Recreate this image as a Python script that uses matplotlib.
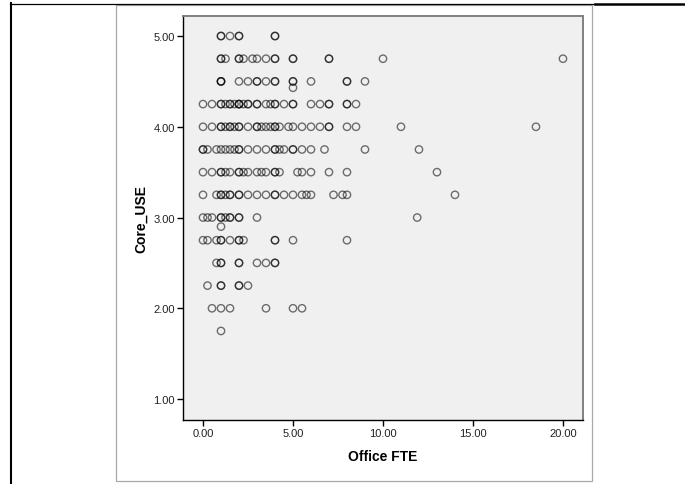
#!/usr/bin/env python3

import numpy as np
import matplotlib
matplotlib.use("Agg")
import matplotlib.pyplot as plt
from matplotlib.lines import Line2D
from matplotlib.patches import Rectangle
from matplotlib.ticker import FormatStrFormatter

plt.rcParams['font.family'] = ['Liberation Sans', 'DejaVu Sans']

# Office FTE values for each Core_USE level (repeats = overlapping cases)
fte_500 = [1.0, 1.0, 1.5, 2.0, 2.0, 4.0, 4.0]
fte_475 = [1.0, 1.0, 1.25, 2.0, 2.0, 2.25, 2.75, 3.0, 3.5, 4.0, 4.0, 5.0, 5.0, 7.0, 7.0, 10.0, 20.0]
fte_450 = [1.0, 1.0, 1.0, 2.0, 2.5, 3.0, 3.0, 3.5, 4.0, 4.0, 5.0, 5.0, 6.0, 8.0, 8.0, 9.0]
fte_443 = [5.0]
fte_425 = [0.0, 0.5, 1.0, 1.0, 1.25, 1.5, 1.5, 1.75, 2.0, 2.0, 2.0, 2.25, 2.5, 2.5, 3.0, 3.0,
           3.5, 3.75, 4.0, 4.0, 4.5, 5.0, 5.0, 6.0, 6.5, 7.0, 7.0, 8.0, 8.0, 8.5]
fte_400 = [0.0, 0.5, 1.0, 1.0, 1.25, 1.5, 1.5, 1.75, 2.0, 2.0, 2.5, 3.0, 3.0, 3.25, 3.5, 3.75,
           4.0, 4.0, 4.25, 4.75, 5.0, 5.5, 6.0, 6.5, 7.0, 7.0, 8.0, 8.5, 11.0, 18.5]
fte_375 = [0.0, 0.0, 0.25, 0.75, 1.0, 1.25, 1.5, 1.75, 2.0, 2.0, 2.5, 3.0, 3.5, 4.0, 4.0, 4.25,
           4.5, 5.0, 5.0, 5.5, 6.0, 6.75, 9.0, 12.0]
fte_350 = [0.0, 0.5, 1.0, 1.0, 1.25, 1.5, 2.0, 2.0, 2.25, 2.5, 3.0, 3.25, 3.5, 4.0, 4.0, 4.25,
           5.25, 5.5, 6.0, 7.0, 8.0, 13.0]
fte_325 = [0.0, 0.75, 1.0, 1.0, 1.25, 1.5, 1.5, 2.0, 2.0, 2.5, 3.0, 3.5, 4.0, 4.0, 4.5, 5.0,
           5.5, 5.75, 6.0, 7.25, 7.75, 8.0, 14.0]
fte_300 = [0.0, 0.25, 0.5, 1.0, 1.0, 1.25, 1.5, 1.5, 2.0, 2.0, 3.0, 11.9]
fte_290 = [1.0]
fte_275 = [0.0, 0.25, 0.75, 1.0, 1.0, 1.5, 2.0, 2.0, 2.25, 4.0, 4.0, 5.0, 8.0]
fte_250 = [0.75, 1.0, 1.0, 2.0, 2.0, 3.0, 3.5, 4.0, 4.0]
fte_225 = [0.25, 1.0, 1.0, 2.0, 2.0, 2.5]
fte_200 = [0.5, 1.0, 1.5, 3.5, 5.0, 5.5]
fte_175 = [1.0]

core_levels = [5.0, 4.75, 4.5, 4.43, 4.25, 4.0, 3.75, 3.5, 3.25, 3.0, 2.9, 2.75, 2.5, 2.25, 2.0, 1.75]
fte_rows = [fte_500, fte_475, fte_450, fte_443, fte_425, fte_400, fte_375, fte_350,
            fte_325, fte_300, fte_290, fte_275, fte_250, fte_225, fte_200, fte_175]

x_ticks = [0, 5, 10, 15, 20]
y_ticks = [1, 2, 3, 4, 5]

office_fte = np.concatenate([np.array(r, dtype=float) for r in fte_rows])
core_use = np.concatenate([np.full(len(r), lvl) for r, lvl in zip(fte_rows, core_levels)])

W, H = 685, 485

def fx(x) :
	return x / W

def fy(y) :
	return 1 - y / H

fig = plt.figure(figsize=(W / 100, H / 100), dpi=100)

# page decoration: black table lines and the grey chart frame
fig.add_artist(Line2D([fx(10), fx(595)], [fy(4.5), fy(4.5)], color='black', lw=0.9))
fig.add_artist(Line2D([fx(595), fx(685)], [fy(5), fy(5)], color='black', lw=1.8))
fig.add_artist(Line2D([fx(10.5), fx(10.5)], [fy(4), fy(485)], color='black', lw=1.5))
fig.add_artist(Rectangle((fx(116), fy(482.3)), fx(592 - 116), (482.3 - 5.7) / H,
                         fill=False, edgecolor='#a8a8a8', lw=0.9))

ax = fig.add_axes([fx(182.7), fy(421), fx(583.3 - 182.7), (421 - 16.7) / H])
ax.set_facecolor('#f0f0f0')

ax.scatter(office_fte, core_use, s=28, facecolors='none',
           edgecolors=(0, 0, 0, 0.55), linewidths=1.0, zorder=3)

ax.set_xlim(-1.128, 21.13)
ax.set_ylim(0.769, 5.224)
ax.set_xticks(x_ticks)
ax.set_yticks(y_ticks)
ax.xaxis.set_major_formatter(FormatStrFormatter('%.2f'))
ax.yaxis.set_major_formatter(FormatStrFormatter('%.2f'))
ax.tick_params(direction='out', length=4, width=1, color='black',
               labelsize=8, labelcolor='#222222', pad=1.5)

for side in ['left', 'bottom'] :
	ax.spines[side].set_color('black')
	ax.spines[side].set_linewidth(1.0)
for side in ['top', 'right'] :
	ax.spines[side].set_color('#808080')
	ax.spines[side].set_linewidth(1.4)

ax.set_xlabel('Office FTE', fontsize=10, fontweight='bold', labelpad=8)
ax.set_ylabel('Core_USE', fontsize=10, fontweight='bold', labelpad=4)

fig.savefig('out.png', dpi=100)
